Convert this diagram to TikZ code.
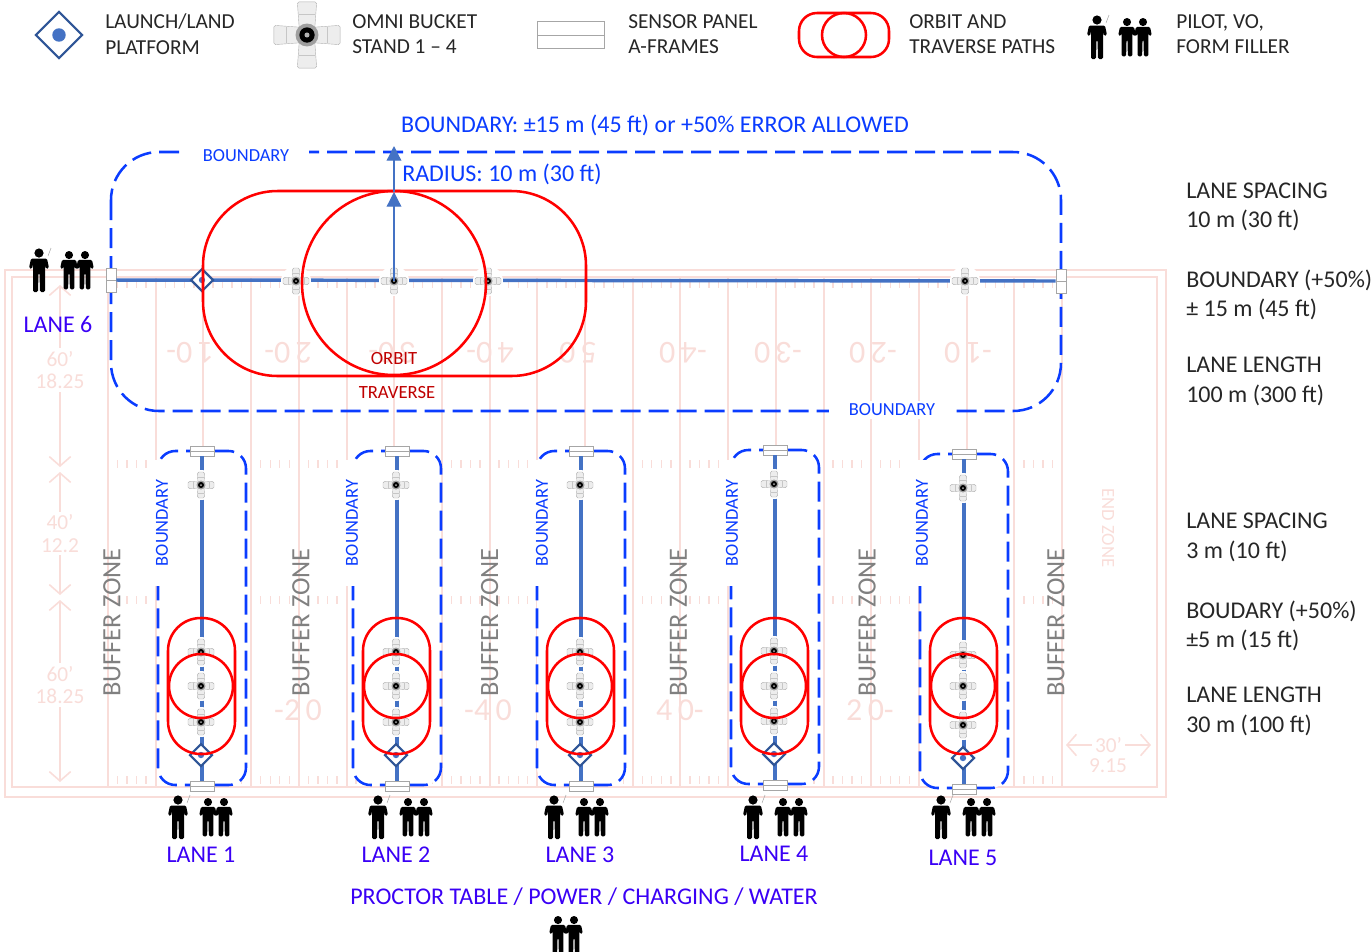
\documentclass[tikz,border=0pt]{standalone}
\usepackage{fontspec}
\setmainfont{Carlito}
\usepackage{tikz}
\usetikzlibrary{arrows.meta}
\definecolor{fieldpink}{HTML}{F9DDD9}
\definecolor{pathred}{HTML}{FF0000}
\definecolor{dashblue}{HTML}{0A3CFF}
\definecolor{laneblue}{HTML}{4472C4}
\definecolor{padblue}{HTML}{2F5597}
\definecolor{lanetext}{HTML}{3A00F5}
\tikzset{
  field line/.style={draw=fieldpink, line width=1.5pt},
  field text/.style={text=fieldpink, font=\fontsize{24}{26}\selectfont},
  field dim/.style={field line, line width=1.2pt, <->, >={Straight Barb[length=7pt,width=16pt]}},
  dim text/.style={field text, fill=white, align=center, inner sep=2pt, font=\fontsize{16}{17}\selectfont},
  boundary line/.style={draw=dashblue, line width=1.9pt, dash pattern=on 15pt off 6pt},
  red path/.style={draw=pathred, line width=1.9pt},
  lane line/.style={draw=laneblue, line width=2.6pt},
  sensor/.style={draw=gray!70, fill=white, line width=.6pt, minimum width=18pt, minimum height=7.5pt, inner sep=0pt,
    path picture={\draw[gray!70, line width=.5pt] (path picture bounding box.west) -- (path picture bounding box.east);}},
  key text/.style={anchor=west, align=left, inner sep=0pt, text=black!85, font=\fontsize{16}{19}\selectfont},
  note text/.style={anchor=west, align=left, inner sep=0pt, text=black!85, font=\fontsize{18}{22.3}\selectfont},
  blue label/.style={text=dashblue, font=\fontsize{18}{20}\selectfont},
  small label/.style={text=dashblue, fill=white, inner sep=1pt, font=\fontsize{13.8}{15}\selectfont},
  lane label/.style={text=lanetext, font=\fontsize{18}{20}\selectfont},
  red label/.style={text=pathred!75!black, font=\fontsize{14}{15}\selectfont},
  buffer label/.style={rotate=90, text=black!50, font=\fontsize{19.8}{22}\selectfont},
  % omni bucket stand
  omni/.pic={
    \fill[white] (0,0) circle (15);
    \foreach \r in {0,90,180,270} {
      \draw[rotate=\r, fill=gray!14, draw=gray!60, line width=.3pt, rounded corners=1.3pt]
        (2,-3) -- (13,-3.8) -- (13,3.8) -- (2,3) -- cycle;
      \draw[rotate=\r, draw=gray!45, line width=.25pt] (8,-3.3) -- (8,3.3);
    }
    \fill[gray!75] (0,0) circle (4.5);
    \fill[black] (0,0) circle (3);
    \fill[gray!60] (0,0) circle (1);
  },
  % launch and land platform
  launchpad/.pic={
    \draw[draw=padblue, fill=white, line width=1.6pt] (-11,0) -- (0,-11) -- (11,0) -- (0,11) -- cycle;
    \fill[laneblue] (0,0) circle (3.2);
  },
  person/.pic={
    \fill[black] (0,-17) circle (4.6);
    \fill[black, rounded corners=1pt] (-8,-11.5) -- (8,-11.5) -- (10,-2) -- (7,-1) -- (6,-6) -- (6,22) -- (1,22)
      -- (.5,3) -- (-.5,3) -- (-1,22) -- (-6,22) -- (-6,-6) -- (-7,-1) -- (-10,-2) -- cycle;
  },
  % pilot, visual observer and form filler
  crew/.pic={
    \pic at (0,0) {person};
    \draw[gray!70, line width=.4pt] (9,-14) -- (12,-22);
    \pic[scale=.88] at (30,0) {person};
    \pic[scale=.88] at (46,0) {person};
  }
}

\begin{document}
\begin{tikzpicture}[x=.75pt, y=-.75pt]
    \useasboundingbox (0,0) rectangle (1371,951);

    % Faded football field behind the lanes
    \draw[field line, line width=.8pt] (5,270) rectangle (1166,797);
    \draw[field line, line width=2.2pt] (12,277) rectangle (1157,787);
    \foreach \k in {0,...,20} {
      \draw[field line] ({108+47.7*\k},277) -- ({108+47.7*\k},787); % yard line
    }
    \foreach \y in {284,464,600,780} {
      \foreach \k in {1,...,99} {
        \draw[field line, line width=1pt] ({108+9.54*\k},{\y-4}) -- ({108+9.54*\k},{\y+4});
      }
    }
    \foreach \x/\v in {190/1\,0-,288/2\,0-,392/3\,0-,490/4\,0-,578/5\,0,683/-4\,0,778/-3\,0,873/-2\,0,968/-1\,0} {
      \node[field text, rotate=180] (top\x) at (\x,353) {\v};
    }
    \foreach \x/\v in {298/-2\,0,488/-4\,0,680/4\,0-,870/2\,0-} {
      \node[field text] (bottom\x) at (\x,710) {\v};
    }
    \draw[field dim] (60,285) -- node[dim text, pos=.467] (dima) {60'\\18.25} (60,467);
    \draw[field dim] (60,472) -- node[dim text] (dimb) {40'\\12.2} (60,595);
    \draw[field dim] (60,600) -- node[dim text, pos=.467] (dimc) {60'\\18.25} (60,782);
    \draw[field dim] (1066,745) -- node[dim text] (dimd) {30'} (1151,745);
    \node[dim text, fill=none] (dime) at (1108,766) {9.15};
    \node[field text, rotate=-90, font=\fontsize{14}{15}\selectfont] (endzone) at (1108,528) {END ZONE};

    % Legend along the top
    \pic[scale=2.1] at (59,35) {launchpad};
    \node[key text] (keypad) at (105,34) {LAUNCH/LAND\\PLATFORM};
    \pic[scale=2.55] at (307,35) {omni};
    \node[key text] (keyomni) at (352,34) {OMNI BUCKET\\STAND 1 -- 4};
    \node[sensor, minimum width=50pt, minimum height=20pt] (keysensor) at (571,35) {};
    \node[key text] (keyframe) at (628,34) {SENSOR PANEL\\A-FRAMES};
    \draw[red path, rounded corners=13.5pt] (799,13) rectangle (889,57);
    \draw[red path] (844,35) circle (22);
    \node[key text] (keypath) at (909,34) {ORBIT AND\\TRAVERSE PATHS};
    \pic at (1097,37) {crew};
    \node[key text] (keycrew) at (1176,34) {PILOT, VO,\\FORM FILLER};

    % Lane 6 runs across the top
    \draw[boundary line, rounded corners=36pt] (111,152) rectangle (1061,411);
    \node[sensor, rotate=90] (sensorA) at (111,280) {};
    \node[sensor, rotate=90] (sensorB) at (1061,281) {};
    \draw[lane line] (sensorA) -- (sensorB);
    \pic at (202,280) {launchpad};
    \foreach \x in {296,394,488,965} {
      \pic at (\x,281) {omni};
    }
    \coordinate (hub) at (394,281);
    \coordinate (radius) at (394,192);
    \coordinate (limit) at (394,146);
    \draw[red path, rounded corners=56pt] (203,191) rectangle (586,376);
    \draw[red path] (394,283) circle (92);
    \draw[-{Triangle[length=11pt,width=11pt]}, draw=laneblue, fill=laneblue, line width=1pt] (hub) -- (radius);
    \draw[-{Triangle[length=11pt,width=11pt]}, draw=laneblue, fill=laneblue, line width=1pt] (radius) -- (limit);
    \node[blue label] (limittext) at (655,125) {BOUNDARY: ±15 m (45 ft) or +50\% ERROR ALLOWED};
    \node[blue label, anchor=west, inner sep=0pt] (radiustext) at (402,174) {RADIUS: 10 m (30 ft)};
    \node[small label, minimum width=95pt, minimum height=14pt] (boundA) at (246,156) {BOUNDARY};
    \node[small label, minimum width=95pt, minimum height=14pt] (boundB) at (892,410) {BOUNDARY};
    \node[red label] (orbit) at (394,358) {ORBIT};
    \node[red label] (traverse) at (397,392) {TRAVERSE};
    \pic at (39,270) {crew};
    \node[lane label] (lanesix) at (58,324) {LANE 6};

    % The five short lanes
    \foreach \n/\x/\dy/\cx in {1/201/0/178,2/396/0/378,3/580/0/554,4/774/-1/753,5/963/3/941} {
      \draw[boundary line, fill=white, rounded corners=13pt] ({\x-43},{451+\dy}) rectangle ({\x+45},{785+\dy});
      \node[small label, rotate=90, minimum width=95pt, minimum height=19pt] (bound\n) at ({190*\n-28},523) {BOUNDARY};
      \node[sensor] (top\n) at ({\x+1},{451+\dy}) {};
      \node[sensor] (end\n) at ({\x+1},{786+\dy}) {};
      \draw[lane line] (top\n) -- (end\n);
      \pic at (\x,{485+\dy}) {omni};
      \pic at (\x,{652+\dy}) {omni};
      \pic at (\x,686) {omni};
      \pic at (\x,{722+\dy}) {omni};
      \pic at (\x,{755+\dy}) {launchpad};
      \draw[red path, rounded corners=24.5pt] ({\x-33},618) rectangle ({\x+34},754);
      \draw[red path] (\x,686) circle (32);
      \pic at (\cx,817) {crew};
      \node[lane label] (lane\n) at (\x,{855+\dy}) {LANE \n};
    }
    \foreach \k in {0,...,5} {
      \node[buffer label] (buffer\k) at ({112+188.8*\k},622.5) {BUFFER ZONE};
    }

    % Notes down the right side
    \node[note text] (noteA) at (1186,207) {LANE SPACING\\10 m (30 ft)};
    \node[note text] (noteB) at (1186,295) {BOUNDARY (+50\%)\\± 15 m (45 ft)};
    \node[note text] (noteC) at (1186,381) {LANE LENGTH\\100 m (300 ft)};
    \node[note text] (noteD) at (1186,537) {LANE SPACING\\3 m (10 ft)};
    \node[note text] (noteE) at (1186,626) {BOUDARY (+50\%)\\±5 m (15 ft)};
    \node[note text] (noteF) at (1186,711) {LANE LENGTH\\30 m (100 ft)};

    % Proctor table at the bottom
    \node[lane label] (proctor) at (584,897) {PROCTOR TABLE / POWER / CHARGING / WATER};
    \pic[scale=.88] at (558,935) {person};
    \pic[scale=.88] at (574,935) {person};
\end{tikzpicture}
\end{document}
